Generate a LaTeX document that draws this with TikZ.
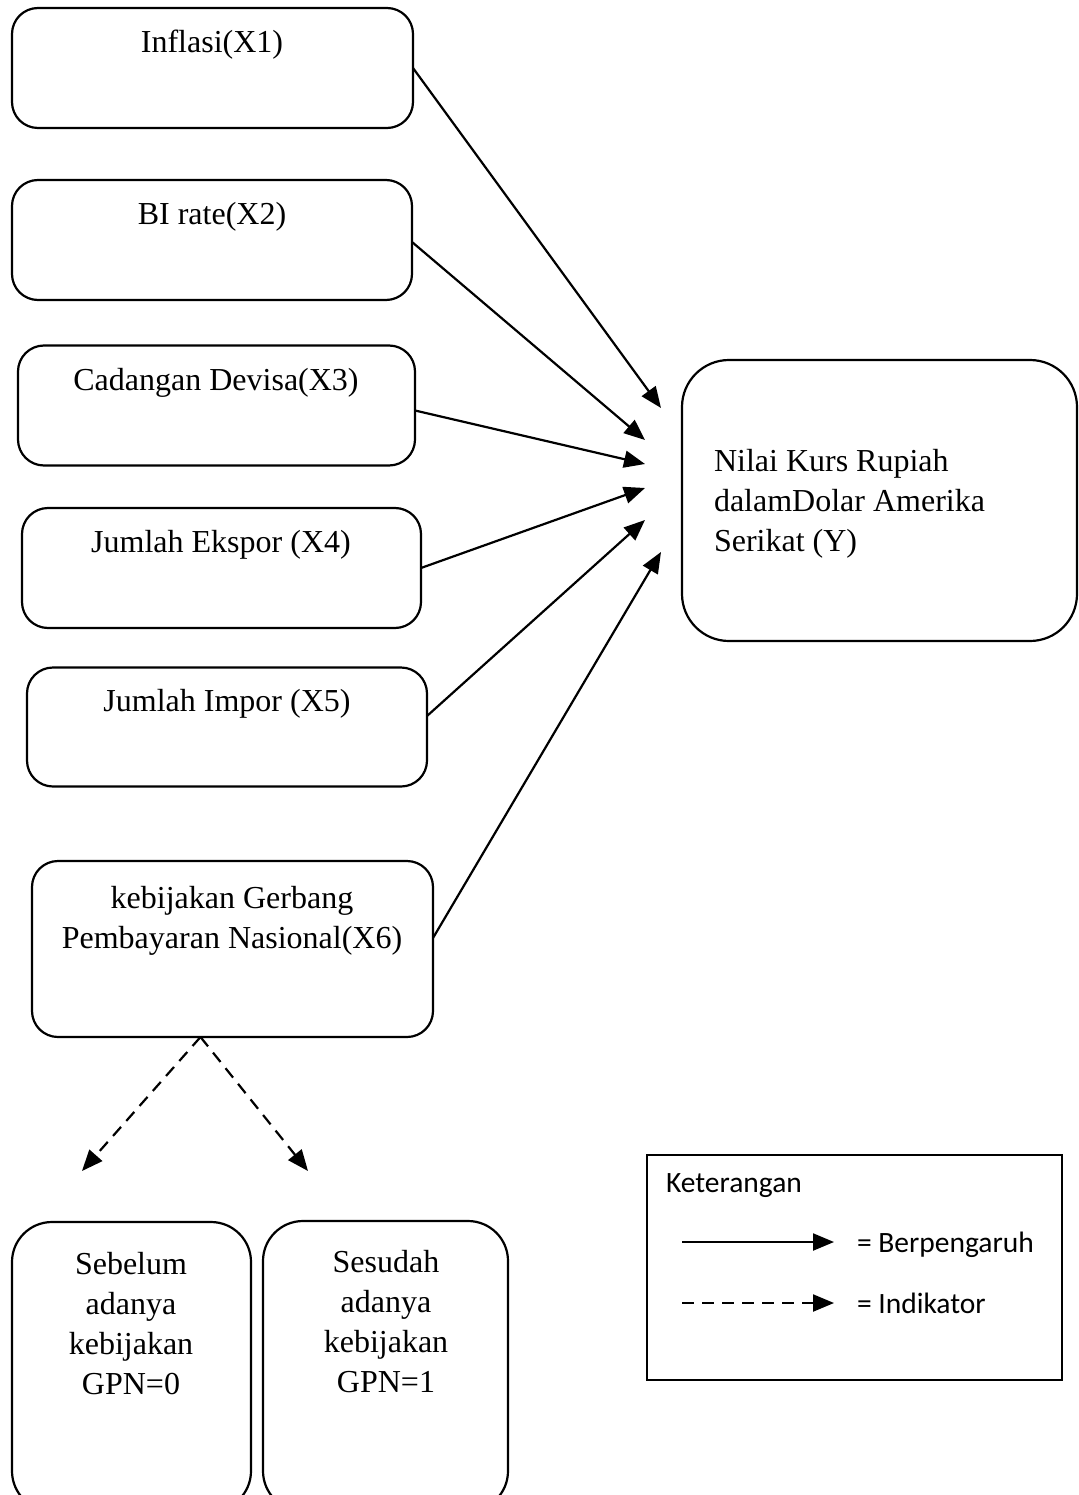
\documentclass[tikz,border=0pt]{standalone}
\usepackage{fontspec}
\setmainfont{Liberation Serif}
\newfontfamily\ketfont{Carlito}
\usetikzlibrary{arrows.meta}

\begin{document}
\begin{tikzpicture}[x=1pt,y=-1pt,line width=2.2pt,
  every node/.style={inner sep=0pt,outer sep=0pt},
  box/.style={draw,rounded corners=26pt},
  txt/.style={font=\fontsize{32}{40}\selectfont,align=center},
  ket/.style={font=\ketfont\fontsize{29.5}{36}\selectfont,anchor=west},
  arr/.style={-{Triangle[length=21pt,width=17pt]}},
  dasharr/.style={arr,dash pattern=on 12pt off 8pt}]
\useasboundingbox (0,0) rectangle (1078,1495);
\clip (0,0) rectangle (1078,1495);
\coordinate (e1) at (661,408);
\coordinate (e2) at (645,440);
\coordinate (e3) at (645,464);
\coordinate (e4) at (645,488);
\coordinate (e5) at (645,520);
\coordinate (e6) at (661,552);
\coordinate (d0) at (82,1171);
\coordinate (d1) at (308,1171);
\coordinate (k1a) at (682,1242);
\coordinate (k1b) at (834,1242);
\coordinate (k2a) at (682,1303);
\coordinate (k2b) at (834,1303);
% boxes
\node[box,minimum width=401pt,minimum height=120pt] (x1) at (212.5,68) {};
\node[box,minimum width=400pt,minimum height=120pt] (x2) at (212,240) {};
\node[box,minimum width=397pt,minimum height=120pt] (x3) at (216.5,405.5) {};
\node[box,minimum width=399pt,minimum height=120pt] (x4) at (221.5,568) {};
\node[box,minimum width=400pt,minimum height=119pt] (x5) at (227,727) {};
\node[box,minimum width=401pt,minimum height=176pt] (x6) at (232.5,949) {};
\node[box,rounded corners=47pt,minimum width=395pt,minimum height=281pt] (y) at (879.5,500.5) {};
\node[box,rounded corners=40pt,minimum width=239pt,minimum height=289pt] (s0) at (131.5,1366.5) {};
\node[box,rounded corners=40pt,minimum width=245pt,minimum height=290pt] (s1) at (385.5,1366) {};
\node[draw,minimum width=415pt,minimum height=225pt] (ket) at (854.5,1267.5) {};
% texts
\node[txt] (x1t) at (212,45) {Inflasi(X1)};
\node[txt] (x2t) at (212,217) {BI rate(X2)};
\node[txt] (x3t) at (216,383) {Cadangan Devisa(X3)};
\node[txt] (x4t) at (221,545) {Jumlah Ekspor (X4)};
\node[txt] (x5t) at (227,704) {Jumlah Impor (X5)};
\node[txt] (x6t) at (232,921) {kebijakan Gerbang\\Pembayaran Nasional(X6)};
\node[txt,align=left,anchor=west] (yt) at (714,504) {Nilai Kurs Rupiah\\dalamDolar Amerika\\Serikat (Y)};
\node[txt] (s0t) at (131,1324) {Sebelum\\adanya\\kebijakan\\GPN=0};
\node[txt] (s1t) at (386,1322) {Sesudah\\adanya\\kebijakan\\GPN=1};
\node[ket] (kett) at (666,1186) {Keterangan};
\node[ket] (k1t) at (857,1245) {= Berpengaruh};
\node[ket] (k2t) at (857,1303) {= Indikator};
% arrows
\draw[arr] (x1.east) -- (e1);
\draw[arr] ([yshift=-2pt]x2.east) -- (e2);
\draw[arr] ([yshift=-5pt]x3.east) -- (e3);
\draw[arr] (x4.east) -- (e4);
\draw[arr] ([yshift=11pt]x5.east) -- (e5);
\draw[arr] ([yshift=11pt]x6.east) -- (e6);
\draw[dasharr] ([xshift=-32pt]x6.south) -- (d0);
\draw[dasharr] ([xshift=-32pt]x6.south) -- (d1);
\draw[arr] (k1a) -- (k1b);
\draw[dasharr] (k2a) -- (k2b);
\end{tikzpicture}
\end{document}
